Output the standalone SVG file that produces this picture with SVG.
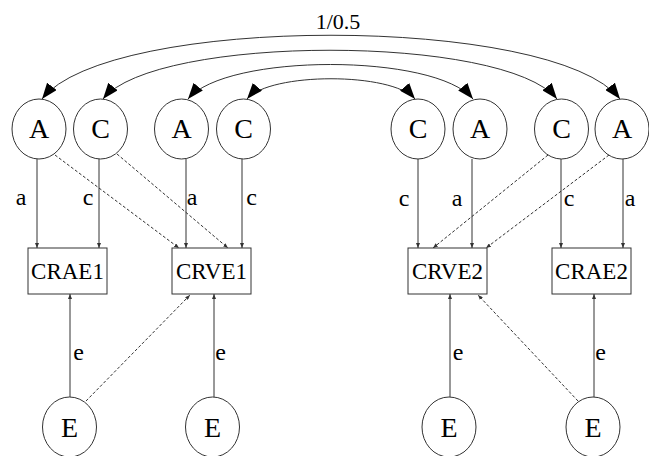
<svg xmlns="http://www.w3.org/2000/svg" width="649" height="456" viewBox="0 0 649 456">
<style>
.n{fill:#fff;stroke:#333;stroke-width:1}
.t{font-family:"Liberation Serif","Times New Roman",serif;fill:#000;text-anchor:middle}
.big{font-size:28px}
.box{font-size:23px}
.lab{font-size:24px}
.ttl{font-size:22px}
.e{fill:none;stroke:#333;stroke-width:1}
.d{stroke-dasharray:3,2}
</style>
<defs>
<marker id="big" viewBox="0 0 16 12" refX="16" refY="6" markerWidth="16" markerHeight="12" markerUnits="userSpaceOnUse" orient="auto-start-reverse"><path d="M0,0 L16,6 L0,12 z" fill="#000"/></marker>
<marker id="sm" viewBox="0 0 5 4" refX="5" refY="2" markerWidth="5" markerHeight="4" markerUnits="userSpaceOnUse" orient="auto"><path d="M0,0 L5,2 L0,4 z" fill="#333"/></marker>
</defs>
<rect width="649" height="456" fill="#fff"/>
<g id="connectors">
<path class="e" d="M42,99 C108,14 554,14 620,99" marker-start="url(#big)" marker-end="url(#big)"/>
<path class="e" d="M103,99 C155,34 505,34 557,99" marker-start="url(#big)" marker-end="url(#big)"/>
<path class="e" d="M188,99 C226,53 435,53 473,99" marker-start="url(#big)" marker-end="url(#big)"/>
<path class="e" d="M247,99 C270,72 392,72 415,99" marker-start="url(#big)" marker-end="url(#big)"/>
<text class="t ttl" x="338" y="29">1/0.5</text>
<line class="e" x1="37" y1="159" x2="37" y2="248" marker-end="url(#sm)"/>
<line class="e" x1="99" y1="159" x2="99" y2="248" marker-end="url(#sm)"/>
<line class="e" x1="186" y1="159" x2="186" y2="248" marker-end="url(#sm)"/>
<line class="e" x1="242" y1="159" x2="242" y2="248" marker-end="url(#sm)"/>
<line class="e" x1="418" y1="159" x2="418" y2="248" marker-end="url(#sm)"/>
<line class="e" x1="472" y1="159" x2="472" y2="248" marker-end="url(#sm)"/>
<line class="e" x1="561" y1="159" x2="561" y2="248" marker-end="url(#sm)"/>
<line class="e" x1="623" y1="159" x2="623" y2="248" marker-end="url(#sm)"/>
<line class="e" x1="70" y1="397" x2="70" y2="294" marker-end="url(#sm)"/>
<line class="e" x1="214" y1="397" x2="214" y2="294" marker-end="url(#sm)"/>
<line class="e" x1="450" y1="397" x2="450" y2="294" marker-end="url(#sm)"/>
<line class="e" x1="594" y1="397" x2="594" y2="294" marker-end="url(#sm)"/>
<line class="e d" x1="55" y1="155" x2="179" y2="248" marker-end="url(#sm)"/>
<line class="e d" x1="117" y1="154" x2="228" y2="248" marker-end="url(#sm)"/>
<line class="e d" x1="86" y1="401" x2="190" y2="295" marker-end="url(#sm)"/>
<line class="e d" x1="548" y1="155" x2="433" y2="248" marker-end="url(#sm)"/>
<line class="e d" x1="609" y1="155" x2="486" y2="248" marker-end="url(#sm)"/>
<line class="e d" x1="578" y1="401" x2="478" y2="295" marker-end="url(#sm)"/>
<text class="t lab" x="21" y="205">a</text>
<text class="t lab" x="88" y="205">c</text>
<text class="t lab" x="192" y="205">a</text>
<text class="t lab" x="251.5" y="205">c</text>
<text class="t lab" x="404" y="206">c</text>
<text class="t lab" x="457" y="206">a</text>
<text class="t lab" x="569" y="206">c</text>
<text class="t lab" x="630" y="206">a</text>
<text class="t lab" x="78.5" y="360">e</text>
<text class="t lab" x="220.5" y="360">e</text>
<text class="t lab" x="458" y="360">e</text>
<text class="t lab" x="600.5" y="360">e</text>
</g>
<g id="A1"><ellipse class="n" cx="39" cy="129" rx="27" ry="30"/><text class="t big" x="39" y="138">A</text></g>
<g id="C1"><ellipse class="n" cx="100.5" cy="129" rx="27" ry="30"/><text class="t big" x="100.5" y="138">C</text></g>
<g id="A2"><ellipse class="n" cx="181.5" cy="129" rx="27" ry="30"/><text class="t big" x="181.5" y="138">A</text></g>
<g id="C2"><ellipse class="n" cx="243.5" cy="129" rx="27" ry="30"/><text class="t big" x="243.5" y="138">C</text></g>
<g id="C3"><ellipse class="n" cx="418" cy="129" rx="27" ry="30"/><text class="t big" x="418" y="138">C</text></g>
<g id="A3"><ellipse class="n" cx="480" cy="129" rx="27" ry="30"/><text class="t big" x="480" y="138">A</text></g>
<g id="C4"><ellipse class="n" cx="561.5" cy="129" rx="27" ry="30"/><text class="t big" x="561.5" y="138">C</text></g>
<g id="A4"><ellipse class="n" cx="622" cy="129" rx="27" ry="30"/><text class="t big" x="622" y="138">A</text></g>
<g id="CRAE1"><rect class="n" x="28" y="248" width="79" height="46"/><text class="t box" x="67.5" y="279">CRAE1</text></g>
<g id="CRVE1"><rect class="n" x="172" y="248" width="79" height="46"/><text class="t box" x="211.5" y="279">CRVE1</text></g>
<g id="CRVE2"><rect class="n" x="408" y="248" width="79" height="46"/><text class="t box" x="447.5" y="279">CRVE2</text></g>
<g id="CRAE2"><rect class="n" x="552" y="248" width="79" height="46"/><text class="t box" x="591.5" y="279">CRAE2</text></g>
<g id="E1"><ellipse class="n" cx="69.5" cy="427" rx="27" ry="30"/><text class="t big" x="69.5" y="437">E</text></g>
<g id="E2"><ellipse class="n" cx="212.5" cy="427" rx="27" ry="30"/><text class="t big" x="212.5" y="437">E</text></g>
<g id="E3"><ellipse class="n" cx="449" cy="427" rx="27" ry="30"/><text class="t big" x="449" y="437">E</text></g>
<g id="E4"><ellipse class="n" cx="593" cy="427" rx="27" ry="30"/><text class="t big" x="593" y="437">E</text></g>
</svg>
